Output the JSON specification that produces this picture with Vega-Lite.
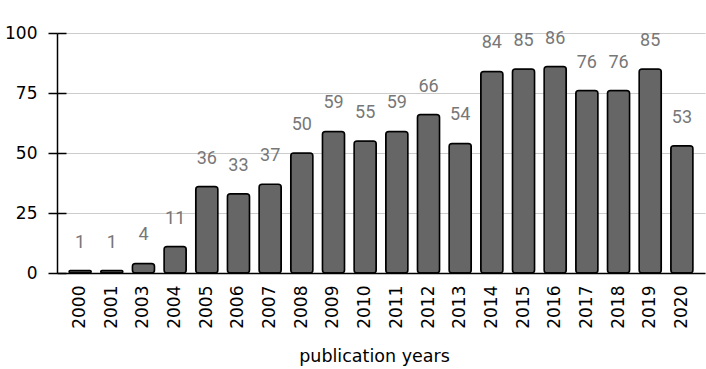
{
  "$schema": "https://vega.github.io/schema/vega-lite/v6.json",
  "width": 648,
  "height": 240,
  "autosize": {"type": "none"},
  "padding": {"left": 57, "top": 33, "right": 1, "bottom": 96},
  "background": "white",
  "config": {"view": {"stroke": null}, "font": "DejaVu Sans"},
  "data": {"values": [
    {"year": "2000", "count": 1},
    {"year": "2001", "count": 1},
    {"year": "2003", "count": 4},
    {"year": "2004", "count": 11},
    {"year": "2005", "count": 36},
    {"year": "2006", "count": 33},
    {"year": "2007", "count": 37},
    {"year": "2008", "count": 50},
    {"year": "2009", "count": 59},
    {"year": "2010", "count": 55},
    {"year": "2011", "count": 59},
    {"year": "2012", "count": 66},
    {"year": "2013", "count": 54},
    {"year": "2014", "count": 84},
    {"year": "2015", "count": 85},
    {"year": "2016", "count": 86},
    {"year": "2017", "count": 76},
    {"year": "2018", "count": 76},
    {"year": "2019", "count": 85},
    {"year": "2020", "count": 53}
  ]},
  "encoding": {
    "x": {
      "field": "year", "type": "ordinal",
      "scale": {"paddingInner": 0.3, "paddingOuter": 0.38},
      "axis": {
        "title": "publication years", "titleFont": "DejaVu Sans", "titleFontSize": 17.5, "titleFontWeight": "normal", "titleColor": "#000", "titlePadding": 19, "titleX": 317,
        "labelAngle": -90, "labelFontSize": 17, "labelColor": "#000", "labelPadding": 12,
        "ticks": false, "domainColor": "#000", "domainWidth": 1.5
      }
    }
  },
  "layer": [
    {"mark": {"type": "bar", "color": "#666666", "stroke": "#000", "strokeWidth": 1.5, "cornerRadius": 3},
     "encoding": {
       "y": {
         "field": "count", "type": "quantitative",
         "scale": {"domain": [0, 100]},
         "axis": {
           "title": null, "values": [0, 25, 50, 75, 100], "orient": "left",
           "labelFontSize": 17, "labelColor": "#000", "labelPadding": 11,
           "tickSize": 9, "tickColor": "#000", "tickWidth": 1.5,
           "domainColor": "#000", "domainWidth": 1.5,
           "gridColor": "#cccccc", "gridWidth": 1
         }
       }
     }},
    {"mark": {"type": "text", "baseline": "middle", "dy": -28, "font": "Roboto", "fontSize": 18, "color": "#777777"},
     "encoding": {
       "y": {
         "field": "count", "type": "quantitative",
         "scale": {"domain": [0, 100]},
         "axis": {
           "title": null, "values": [0, 25, 50, 75, 100], "orient": "left", "offset": -9,
           "labels": false, "domain": false, "grid": false,
           "tickSize": 9, "tickColor": "#000", "tickWidth": 1.5
         }
       },
       "text": {"field": "count", "type": "quantitative"}
     }}
  ],
  "resolve": {"axis": {"y": "independent"}}
}
